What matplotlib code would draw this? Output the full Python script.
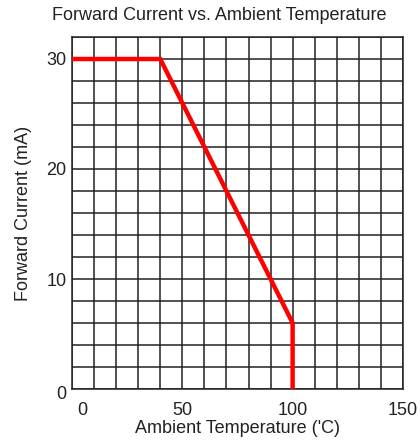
import matplotlib
matplotlib.use("Agg")
import matplotlib.pyplot as plt
import matplotlib.transforms as mtransforms
from matplotlib.ticker import MultipleLocator

# derating curve
temp_c = [0, 40, 100, 100]
current_ma = [30, 30, 6, 0]

x_ticks = [0, 50, 100, 150]
y_ticks = [0, 10, 20, 30]

plt.rcParams["font.family"] = ["Liberation Sans", "DejaVu Sans"]

fig = plt.figure(figsize=(4.2, 4.42), dpi=100)
ax = fig.add_axes([0.1714, 0.1199, 0.788, 0.7964])

ax.plot(temp_c, current_ma, color="#ff0000", linewidth=3.2, solid_capstyle="butt",
        solid_joinstyle="miter", zorder=3)

ax.set_xlim(0, 150)
ax.set_ylim(0, 32)
ax.set_xticks(x_ticks)
ax.set_yticks(y_ticks)
ax.xaxis.set_minor_locator(MultipleLocator(10))
ax.yaxis.set_minor_locator(MultipleLocator(2))
ax.grid(which="both", color="#222222", linewidth=1.1)
ax.set_axisbelow(True)
ax.tick_params(which="both", length=0, labelsize=13, colors="#222222")
ax.tick_params(axis="x", pad=9)
ax.tick_params(axis="y", pad=4)
for s in ax.spines.values():
    s.set_color("#222222")
    s.set_linewidth(1.1)

# nudge the two zero labels apart like the original
fig.canvas.draw()
ax.get_xticklabels()[0].set_transform(
    ax.get_xticklabels()[0].get_transform()
    + mtransforms.ScaledTranslation(10 / 100, 0, fig.dpi_scale_trans))
ax.get_yticklabels()[0].set_transform(
    ax.get_yticklabels()[0].get_transform()
    + mtransforms.ScaledTranslation(0, -3 / 100, fig.dpi_scale_trans))

fig.text(219 / 420, 1 - 15 / 442, "Forward Current vs. Ambient Temperature",
         fontsize=13, color="#222222", ha="center", va="center")
ax.set_xlabel("Ambient Temperature ('C)", fontsize=13, color="#222222", labelpad=1)
ax.set_ylabel("Forward Current (mA)", fontsize=13, color="#222222", labelpad=10)

fig.savefig("out.png", dpi=100, facecolor="white")
